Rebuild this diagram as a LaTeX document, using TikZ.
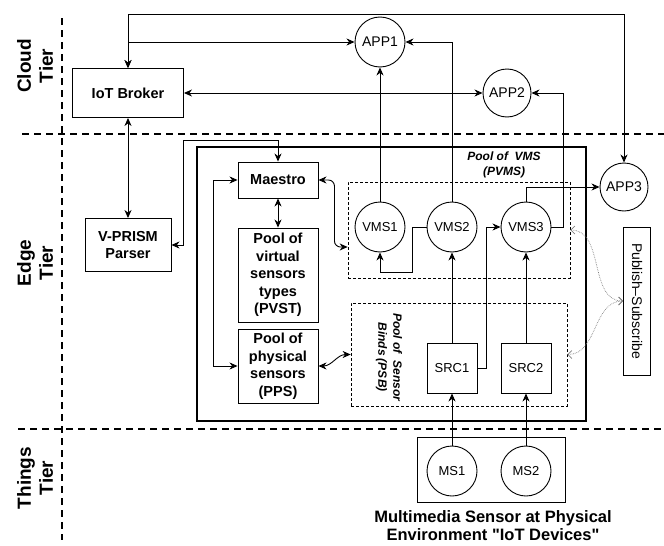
\documentclass[tikz,border=0pt]{standalone}
\usepackage{fontspec}
\setmainfont{Liberation Sans}
\newfontfamily\plainsans{Liberation Sans}
\usetikzlibrary{arrows.meta,positioning}

\begin{document}
\begin{tikzpicture}[x=1pt,y=-1pt,>={Stealth[length=8pt,width=7pt,inset=2.5pt]},
line width=0.9pt,
box/.style={draw,rectangle,align=center,inner sep=0pt,
  font=\fontsize{14.5}{17.5}\selectfont\bfseries},
cnode/.style={draw,circle,minimum size=50pt,inner sep=0pt,
  font=\fontsize{13}{15}\selectfont},
appnode/.style={cnode,font=\fontsize{14}{16}\selectfont},
srcbox/.style={draw,rectangle,minimum size=50pt,inner sep=0pt,
  font=\fontsize{13}{15}\selectfont},
pool/.style={draw,rectangle,dash pattern=on 3pt off 2pt,line width=0.7pt},
poollabel/.style={align=center,font=\fontsize{12}{15}\selectfont\bfseries\itshape},
tier/.style={align=center,font=\fontsize{19}{22}\selectfont\bfseries},
tierline/.style={line width=2pt,dash pattern=on 7pt off 5pt},
psarrow/.style={{Straight Barb[length=4pt,width=8pt]}-{Straight Barb[length=4pt,width=8pt]},
  densely dotted,gray,line width=0.7pt}
]
\useasboundingbox (0,0) rectangle (664,546);

% Tier labels and separators
\node[tier,rotate=90] (cloud) at (35,66) {Cloud\\Tier};
\node[tier,rotate=90] (edge) at (35,263) {Edge\\Tier};
\node[tier,rotate=90] (things) at (35,478) {Things\\Tier};
\draw[tierline] (62,18) -- (62,540);
\draw[tierline] (22,134) -- (664,134);
\draw[tierline] (18,429) -- (664,429);

% Edge box
\draw[line width=2pt] (197,147) rectangle (586,421);

% Cloud tier
\node[box,minimum width=111pt,minimum height=49pt] (broker) at (128,93) {IoT Broker};
\node[appnode] (app1) at (380,42) {APP1};
\node[appnode,minimum size=48pt] (app2) at (507,93) {APP2};
\node[appnode,minimum size=48pt] (app3) at (624,187) {APP3};
\coordinate (ytop) at (0,14);

% Edge tier boxes
\node[box,minimum width=86pt,minimum height=53pt] (vprism) at (128,245) {V-PRISM\\Parser};
\node[box,minimum width=80pt,minimum height=36pt] (maestro) at (278,180) {Maestro};
\node[box,minimum width=80pt,minimum height=94pt] (pvst) at (278,275)
{Pool of\\virtual\\sensors\\types\\(PVST)};
\node[box,minimum width=80pt,minimum height=74pt] (pps) at (278,366)
{Pool of\\physical\\sensors\\(PPS)};
\coordinate (vbend) at (183,140);

% Pool of VMS
\node[pool,minimum width=222pt,minimum height=96pt] (pvms) at (459,230) {};
\node[poollabel] (pvmslabel) at (504,165) {Pool of\ \ VMS\\(PVMS)};
\node[cnode] (vms1) at (380,227) {VMS1};
\node[cnode] (vms2) at (452,227) {VMS2};
\node[cnode] (vms3) at (526,227) {VMS3};
\coordinate (loop) at (412,272);

% Pool of sensor binds
\node[pool,minimum width=216pt,minimum height=103pt] (psb) at (459,354.5) {};
\node[poollabel,rotate=-90] (psblabel) at (389,357) {Pool of\ \ Sensor\\Binds (PSB)};
\node[srcbox] (src1) at (452,368) {SRC1};
\node[srcbox] (src2) at (526,368) {SRC2};

% Publish-Subscribe
\node[draw,rectangle,rotate=-90,minimum width=148pt,minimum height=27pt,inner sep=0pt,
font=\fontsize{14}{16}\selectfont] (pubsub) at (637,301) {Publish--Subscribe};

% Things tier
\node[draw,rectangle,minimum width=148pt,minimum height=65pt] (msbox) at (491,469.5) {};
\node[cnode] (ms1) at (452,471) {MS1};
\node[cnode] (ms2) at (526,471) {MS2};
\node[align=center,font=\plainsans\fontsize{16.5}{18}\selectfont\bfseries] (mslabel) at (493,526)
{Multimedia Sensor at Physical\\Environment "IoT Devices"};

% Arrows
\draw[<->] (broker.north) -- (broker.north |- ytop) -| (app3.north);
\draw[<->] (broker.north) |- (app1.west);
\draw[<->] (broker.east) -- (app2.west);
\draw[<->] (broker.south) -- (vprism.north);
\draw[<->] (maestro.north) |- (vbend) |- (vprism.east);
\draw[<->] (maestro.south) -- (pvst.north);
\draw[<->] (maestro.west) -- ++(-24,0) |- (pps.west);
\draw[<->,rounded corners=6pt] (maestro.east) -- ++(16,0) |- ([yshift=-17pt]pvms.west);
\draw[<->] (pps.east) to[out=0,in=180] (psb.west);
\draw[->] (vms1.north) -- (app1.south);
\draw[->] (vms2.north) |- (app1.east);
\draw[->] (vms3.east) -- ++(12,0) |- (app2.east);
\draw[->] (vms3.north) |- (app3.west);
\draw[->] (vms2.west) -| (loop) -| (vms1.south);
\draw[->] (src1.north) -- (vms2.south);
\draw[->] (src2.north) -- (vms3.south);
\draw[->] (src1.east) -- ++(9,0) |- (vms3.west);
\draw[->] (ms1.north) -- (src1.south);
\draw[->] (ms2.north) -- (src2.south);
\draw[psarrow] (pvms.east) to[out=0,in=180] (pubsub.south);
\draw[psarrow] (psb.east) to[out=0,in=180] (pubsub.south);

\end{tikzpicture}
\end{document}
